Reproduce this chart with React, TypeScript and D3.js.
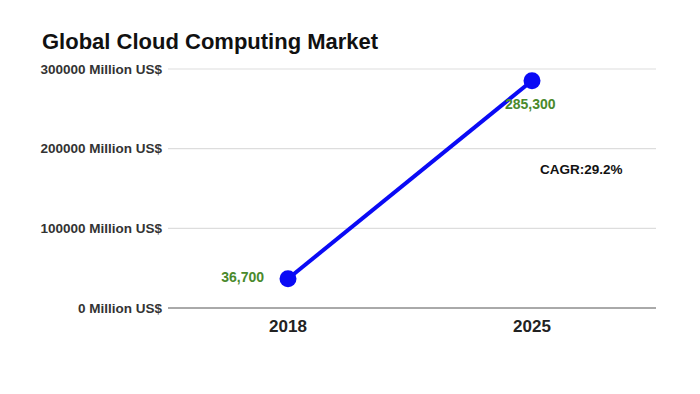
import React, { useEffect, useRef } from "react";
import * as d3 from "d3";

// Global cloud computing market size, million US$
const years = ["2018", "2025"];
const marketValues = [36700, 285300];
const yTicks = [0, 100000, 200000, 300000];
const valueLabels = ["36,700", "285,300"];
const cagrLabel = "CAGR:29.2%";

const App = () => {
  const ref = useRef<SVGSVGElement>(null);

  useEffect(() => {
    const width = 700;
    const height = 394;
    const margin = { top: 69, right: 44, bottom: 86, left: 168 };
    const innerWidth = width - margin.left - margin.right;
    const innerHeight = height - margin.top - margin.bottom;
    const font = "Liberation Sans, Arial, sans-serif";

    const svg = d3.select(ref.current);
    svg.selectAll("*").remove();
    svg.attr("width", width).attr("height", height);

    svg.append("rect").attr("width", width).attr("height", height).attr("fill", "#fff");

    svg.append("text")
      .attr("x", 42).attr("y", 49)
      .style("font-family", font)
      .style("font-size", "22px").style("font-weight", "bold")
      .attr("fill", "#111")
      .text("Global Cloud Computing Market");

    const g = svg.append("g").attr("transform", `translate(${margin.left},${margin.top})`);

    const x = d3.scaleBand().domain(years).range([0, innerWidth]);
    const y = d3.scaleLinear().domain([0, 300000]).range([innerHeight, 0]);

    // gridlines + tick labels
    g.selectAll(".grid").data(yTicks).join("line")
      .attr("x1", 0).attr("x2", innerWidth)
      .attr("y1", d => y(d)).attr("y2", d => y(d))
      .attr("stroke", d => (d === 0 ? "#555" : "#ddd"))
      .attr("stroke-width", d => (d === 0 ? 1 : 1.2));

    g.selectAll(".ytick").data(yTicks).join("text")
      .attr("x", -6).attr("y", d => y(d) + 4.5)
      .attr("text-anchor", "end")
      .style("font-family", font)
      .style("font-size", "13.5px").style("font-weight", "bold")
      .attr("fill", "#333")
      .text(d => `${d} Million US$`);

    g.selectAll(".xtick").data(years).join("text")
      .attr("x", d => (x(d) as number) + x.bandwidth() / 2 - 2)
      .attr("y", innerHeight + 24)
      .attr("text-anchor", "middle")
      .style("font-family", font)
      .style("font-size", "17px").style("font-weight", "bold")
      .attr("fill", "#222")
      .text(d => d);

    const data = years.map((yr, i) => ({ yr, v: marketValues[i], label: valueLabels[i] }));
    const cx = (d: { yr: string }) => (x(d.yr) as number) + x.bandwidth() / 2 - 2;

    const line = d3.line<{ yr: string; v: number }>().x(cx).y(d => y(d.v));
    g.append("path").datum(data)
      .attr("d", line)
      .attr("fill", "none").attr("stroke", "#0a0af5").attr("stroke-width", 4);

    g.selectAll(".pt").data(data).join("circle")
      .attr("cx", cx).attr("cy", d => y(d.v)).attr("r", 8.5)
      .attr("fill", "#0a0af5");

    // value labels
    g.append("text")
      .attr("x", cx(data[0]) - 24).attr("y", y(data[0].v) + 3)
      .attr("text-anchor", "end")
      .style("font-family", font)
      .style("font-size", "14px").style("font-weight", "bold")
      .attr("fill", "#4a8a2c")
      .text(data[0].label);

    g.append("text")
      .attr("x", cx(data[1]) - 27).attr("y", y(data[1].v) + 28)
      .attr("text-anchor", "start")
      .style("font-family", font)
      .style("font-size", "14px").style("font-weight", "bold")
      .attr("fill", "#4a8a2c")
      .text(data[1].label);

    svg.append("text")
      .attr("x", 540).attr("y", 174)
      .style("font-family", font)
      .style("font-size", "13.5px").style("font-weight", "bold")
      .attr("fill", "#111")
      .text(cagrLabel);
  }, []);

  return <svg ref={ref} style={{ position: "absolute", left: 0, top: 0 }} />;
};

export default App;
